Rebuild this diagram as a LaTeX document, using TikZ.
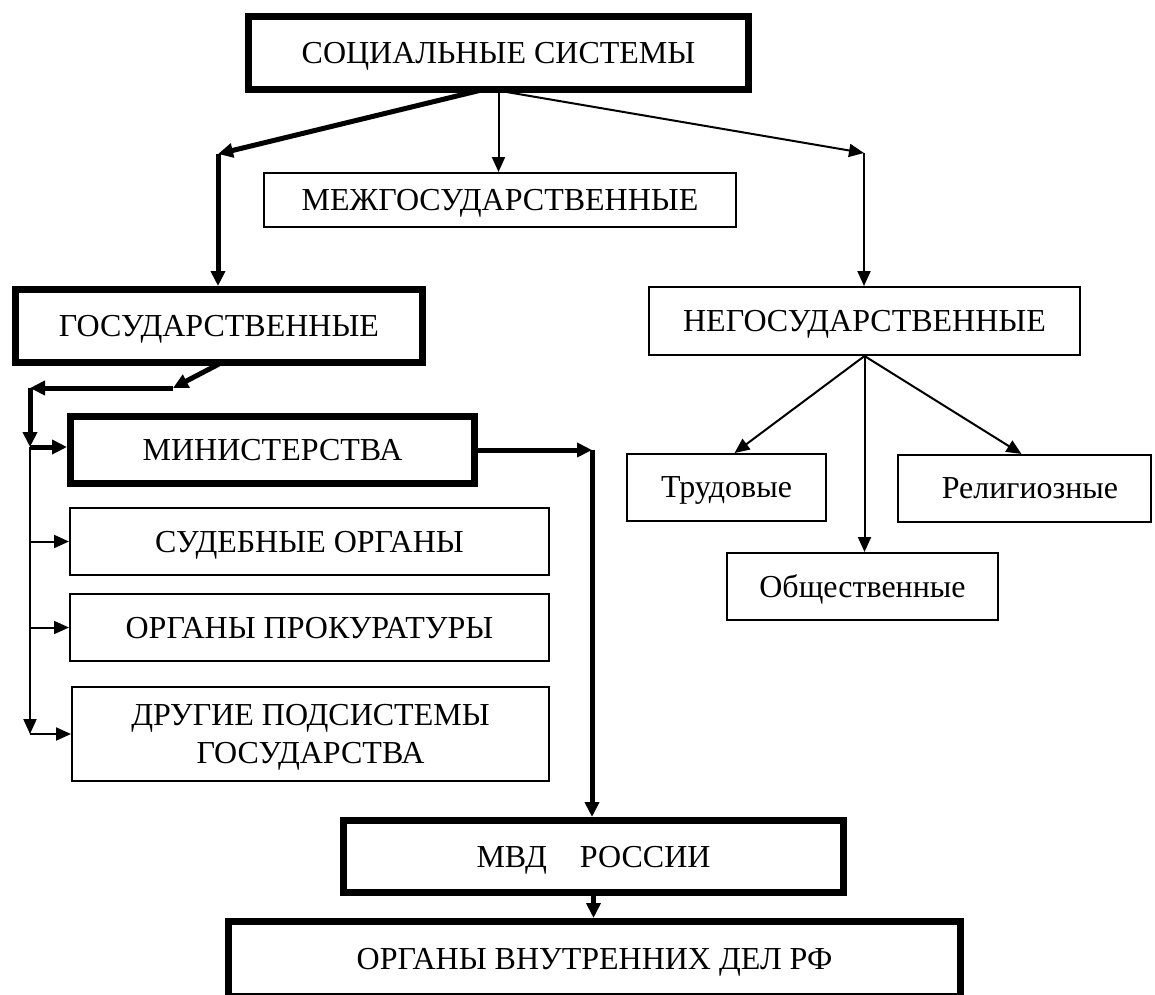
\documentclass[tikz,border=0pt]{standalone}
\usepackage{fontspec}
\setmainfont{Liberation Serif}
\usetikzlibrary{arrows.meta,calc}
\begin{document}
\begin{tikzpicture}[x=1pt,y=-1pt,
  every node/.style={font=\fontsize{32}{38}\selectfont, inner sep=0pt, align=center, text depth=0pt},
  thickbox/.style={draw, line width=7pt, rectangle},
  thinbox/.style={draw, line width=2pt, rectangle},
  thickarr/.style={line width=5pt, -{Triangle[length=15pt,width=14pt]}},
  thinarr/.style={line width=2pt, -{Triangle[length=15pt,width=13pt]}}]
\useasboundingbox (0,0) rectangle (1155,994);
\fill[white] (0,0) rectangle (1155,994);
% boxes
\node[thickbox, minimum width=500pt, minimum height=73pt] (soc) at (498.5,53) {СОЦИАЛЬНЫЕ СИСТЕМЫ};
\node[thinbox, minimum width=472pt, minimum height=54pt] (mezh) at (500,200) {МЕЖГОСУДАРСТВЕННЫЕ};
\node[thickbox, minimum width=407pt, minimum height=73pt] (gos) at (219,326) {ГОСУДАРСТВЕННЫЕ};
\node[thinbox, minimum width=431pt, minimum height=68pt] (negos) at (864.5,321) {НЕГОСУДАРСТВЕННЫЕ};
\node[thickbox, minimum width=404pt, minimum height=67pt] (min) at (272.5,450) {МИНИСТЕРСТВА};
\node[thinbox, minimum width=479pt, minimum height=67pt] (sud) at (309.5,541.5) {СУДЕБНЫЕ ОРГАНЫ};
\node[thinbox, minimum width=479pt, minimum height=67pt] (prok) at (309.5,627.5) {ОРГАНЫ ПРОКУРАТУРЫ};
\node[thinbox, minimum width=477pt, minimum height=94pt] (drug) at (310.5,734) {ДРУГИЕ ПОДСИСТЕМЫ\\ГОСУДАРСТВА};
\node[thinbox, minimum width=199pt, minimum height=67pt] (trud) at (726.5,487.5) {Трудовые};
\node[thinbox, minimum width=253pt, minimum height=67pt] (relig) at (1024.5,488.5) {\hspace*{11pt}Религиозные};
\node[thinbox, minimum width=271pt, minimum height=67pt] (obsch) at (862.5,586.5) {Общественные};
\node[thickbox, minimum width=500pt, minimum height=72pt] (mvd) at (593.5,856.5) {МВД\hspace{33pt}РОССИИ};
\node[thickbox, minimum width=732pt, minimum height=75pt] (org) at (594.5,959) {ОРГАНЫ ВНУТРЕННИХ ДЕЛ РФ};
% bend points
\coordinate (A) at (218,154);
\coordinate (B) at (864,153);
\coordinate (C) at (173,388);
\coordinate (D) at (30,388);
\coordinate (E) at (30,447);
\coordinate (F) at (30,734);
\coordinate (G) at (592,450);
% connectors
\draw[thickarr] ($(soc.south)+(-17,-3)$) -- (A);
\draw[thickarr] (A) -- (A |- gos.north);
\draw[thinarr] (soc.south) -- (soc.south |- mezh.north);
\draw[thinarr] ($(soc.south)+(8,-1)$) -- (B);
\draw[thinarr] (B) -- (B |- negos.north);
\draw[thickarr] ($(gos.south)+(0,-2)$) -- (C);
\draw[thickarr] (C) -- (D);
\draw[thickarr] (D) -- (E);
\draw[thickarr] (E) -- (E -| min.west);
\draw[thinarr] (E) -- (F);
\draw[thinarr] (E |- sud.west) -- (sud.west);
\draw[thinarr] (E |- prok.west) -- (prok.west);
\draw[thinarr] (F) -- (F -| drug.west);
\draw[thickarr] (min.east) -- (G);
\draw[thickarr] (G) -- (G |- mvd.north);
\draw[thickarr] (mvd.south) -- (mvd.south |- org.north);
\draw[thinarr] (negos.south) -- ($(trud.north)+(8,0)$);
\draw[thinarr] (negos.south) -- (negos.south |- obsch.north);
\draw[thinarr] (negos.south) -- ($(relig.north)+(-3,0)$);
\end{tikzpicture}
\end{document}
